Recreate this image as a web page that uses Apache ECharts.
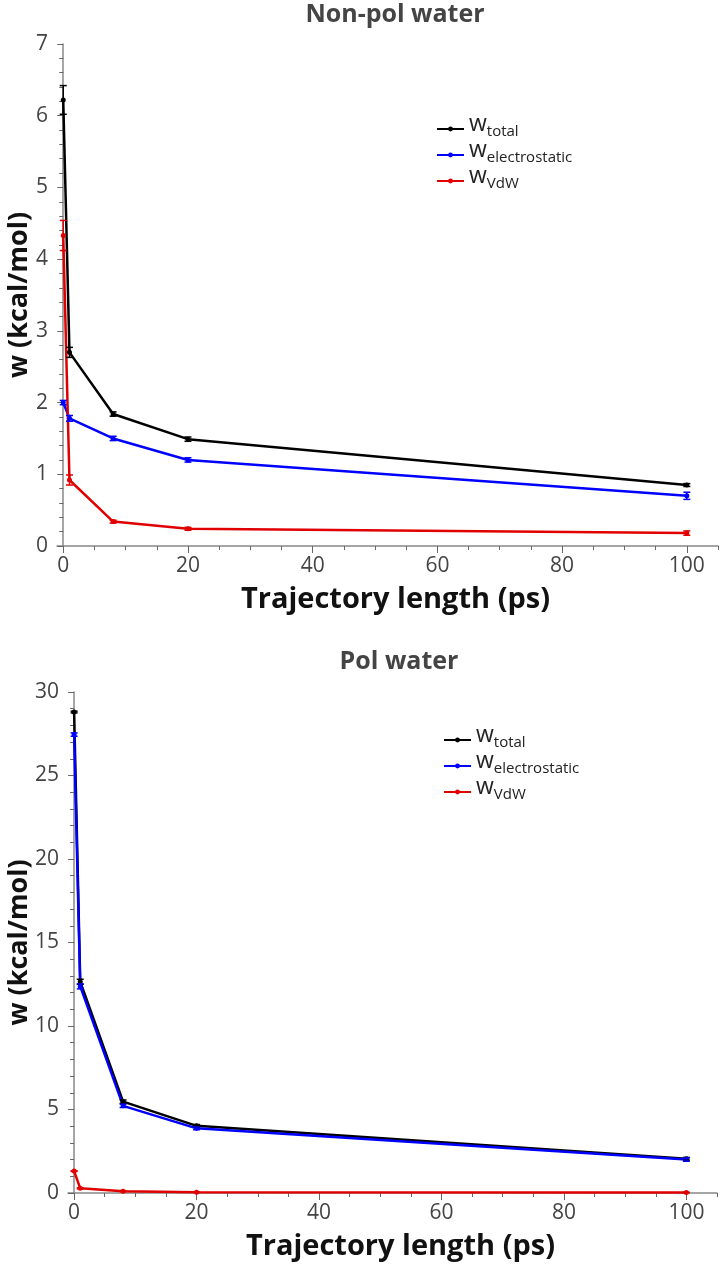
<!DOCTYPE html>
<html><head><meta charset="utf-8">
<script src="https://cdn.jsdelivr.net/npm/echarts@6/dist/echarts.min.js"></script>
<style>html,body{margin:0;padding:0;background:#fff}#c{width:721px;height:1266px}</style>
</head><body><div id="c"></div>
<script>
// ---- data ----
const xValues = [0, 1, 8, 20, 100];
// Non-pol water
const npTotal = [6.22, 2.70, 1.84, 1.49, 0.85];
const npTotalErr = [0.20, 0.07, 0.03, 0.03, 0.02];
const npElec = [2.00, 1.78, 1.50, 1.20, 0.70];
const npElecErr = [0.03, 0.04, 0.03, 0.03, 0.05];
const npVdw = [4.33, 0.92, 0.34, 0.24, 0.18];
const npVdwErr = [0.21, 0.07, 0.02, 0.02, 0.03];
// Pol water
const pTotal = [28.8, 12.65, 5.47, 4.02, 2.05];
const pTotalErr = [0.05, 0.15, 0.10, 0.08, 0.08];
const pElec = [27.45, 12.37, 5.22, 3.87, 2.00];
const pElecErr = [0.10, 0.15, 0.10, 0.08, 0.10];
const pVdw = [1.31, 0.28, 0.10, 0.05, 0.03];
const pVdwErr = [0.02, 0.03, 0.02, 0.01, 0.01];
// ticks / labels
const xTickMajor = [0, 20, 40, 60, 80, 100];
const xTickMinor = [0, 5, 10, 15, 20, 25, 30, 35, 40, 45, 50, 55, 60, 65, 70, 75, 80, 85, 90, 95, 100, 105];
const seriesNames = ['total', 'electrostatic', 'VdW'];
const panelTitles = ['Non-pol water', 'Pol water'];
const xName = 'Trajectory length (ps)';
const yName = 'w (kcal/mol)';

const FONT = 'Open Sans';
const COLORS = ['#000000', '#0000ff', '#e00000'];
const AXIS_COLOR = '#888';
const TICK_COLOR = '#666';

function lineSeries(name, ys, color, g) {
  return {
    type: 'line', name, xAxisIndex: g * 2, yAxisIndex: g,
    data: xValues.map((x, i) => [x, ys[i]]),
    symbol: 'circle', symbolSize: 5, showSymbol: true,
    lineStyle: { color, width: 2.5 }, itemStyle: { color },
    z: 3, animation: false, silent: true
  };
}
function errSeries(ys, errs, color, g) {
  return {
    type: 'custom', xAxisIndex: g * 2, yAxisIndex: g,
    data: xValues.map((x, i) => [x, ys[i] - errs[i], ys[i] + errs[i]]),
    encode: { x: 0, y: [1, 2] },
    renderItem: (params, api) => {
      const lo = api.coord([api.value(0), api.value(1)]);
      const hi = api.coord([api.value(0), api.value(2)]);
      const w = 3.5;
      const st = { stroke: color, lineWidth: 1.5 };
      return { type: 'group', children: [
        { type: 'line', shape: { x1: lo[0], y1: lo[1], x2: hi[0], y2: hi[1] }, style: st },
        { type: 'line', shape: { x1: lo[0] - w, y1: lo[1], x2: lo[0] + w, y2: lo[1] }, style: st },
        { type: 'line', shape: { x1: hi[0] - w, y1: hi[1], x2: hi[0] + w, y2: hi[1] }, style: st }
      ]};
    },
    z: 4, silent: true, animation: false
  };
}
function xAxes(g) {
  return [{
    type: 'value', gridIndex: g, min: -1, max: 105, position: 'bottom',
    axisLine: { show: true, onZero: false, lineStyle: { color: AXIS_COLOR, width: 1.5 } },
    axisTick: { show: true, length: 4, customValues: xTickMinor, lineStyle: { color: TICK_COLOR, width: 1 } },
    axisLabel: { customValues: xTickMajor, fontSize: 21, color: '#444', margin: 10, fontFamily: FONT },
    splitLine: { show: false },
    name: xName, nameLocation: 'middle', nameGap: 39,
    nameTextStyle: { fontSize: 29, fontWeight: 'bold', color: '#111', fontFamily: FONT, padding: [0, 0, 0, 16] }
  }, {
    type: 'value', gridIndex: g, min: -1, max: 105, position: 'bottom',
    axisLine: { show: false, onZero: false },
    axisTick: { show: true, length: 7, customValues: xTickMajor, lineStyle: { color: TICK_COLOR, width: 1 } },
    axisLabel: { show: false }, splitLine: { show: false }
  }];
}
function yAxis(g, max, interval, gap) {
  return {
    type: 'value', gridIndex: g, min: 0, max, interval,
    axisLine: { show: true, lineStyle: { color: AXIS_COLOR, width: 1.5 } },
    axisTick: { show: true, length: 6, lineStyle: { color: TICK_COLOR, width: 1 } },
    minorTick: { show: true, splitNumber: 5, length: 4, lineStyle: { color: TICK_COLOR, width: 1 } },
    axisLabel: { fontSize: 21, color: '#444', margin: 9, fontFamily: FONT },
    splitLine: { show: false }, minorSplitLine: { show: false },
    name: yName, nameLocation: 'middle', nameGap: gap, nameMoveOverlap: false,
    nameTextStyle: { fontSize: 27, fontWeight: 'bold', color: '#111', fontFamily: FONT }
  };
}
function legend(left, top) {
  return {
    orient: 'vertical', left, top, itemWidth: 27, itemHeight: 6, itemGap: 0, padding: 0,
    data: seriesNames, selectedMode: false,
    formatter: n => '{w|w}{s|' + n + '}',
    textStyle: {
      fontFamily: FONT, color: '#222',
      rich: {
        w: { fontSize: 23, lineHeight: 20, fontFamily: FONT, color: '#222', verticalAlign: 'bottom', padding: [0, 0, 3, 0] },
        s: { fontSize: 15, lineHeight: 16, fontFamily: FONT, color: '#222', verticalAlign: 'bottom' }
      }
    }
  };
}

const chart = echarts.init(document.getElementById('c'), null, { renderer: 'canvas' });
const series = [
  errSeries(npTotal, npTotalErr, COLORS[0], 0),
  errSeries(npElec, npElecErr, COLORS[1], 0),
  errSeries(npVdw, npVdwErr, COLORS[2], 0),
  lineSeries(seriesNames[0], npTotal, COLORS[0], 0),
  lineSeries(seriesNames[1], npElec, COLORS[1], 0),
  lineSeries(seriesNames[2], npVdw, COLORS[2], 0),
  errSeries(pTotal, pTotalErr, COLORS[0], 1),
  errSeries(pElec, pElecErr, COLORS[1], 1),
  errSeries(pVdw, pVdwErr, COLORS[2], 1),
  lineSeries(seriesNames[0], pTotal, COLORS[0], 1),
  lineSeries(seriesNames[1], pElec, COLORS[1], 1),
  lineSeries(seriesNames[2], pVdw, COLORS[2], 1)
];
chart.setOption({
  backgroundColor: '#fff',
  animation: false,
  grid: [
    { left: 57, right: 3, top: 44, height: 502, outerBoundsMode: 'none', containLabel: false },
    { left: 68, right: 4, top: 692, height: 501, outerBoundsMode: 'none', containLabel: false }
  ],
  xAxis: [...xAxes(0), ...xAxes(1)],
  yAxis: [yAxis(0, 7, 1, 24), yAxis(1, 30, 5, 35)],
  legend: [legend(436, 113), legend(443, 724)],
  graphic: [
    { type: 'text', x: 395, y: 15, style: { text: panelTitles[0], align: 'center', verticalAlign: 'middle', fontSize: 25, fontWeight: 'bold', fill: '#444', fontFamily: FONT } },
    { type: 'text', x: 399, y: 662, style: { text: panelTitles[1], align: 'center', verticalAlign: 'middle', fontSize: 25, fontWeight: 'bold', fill: '#444', fontFamily: FONT } }
  ],
  series
});
</script></body></html>
